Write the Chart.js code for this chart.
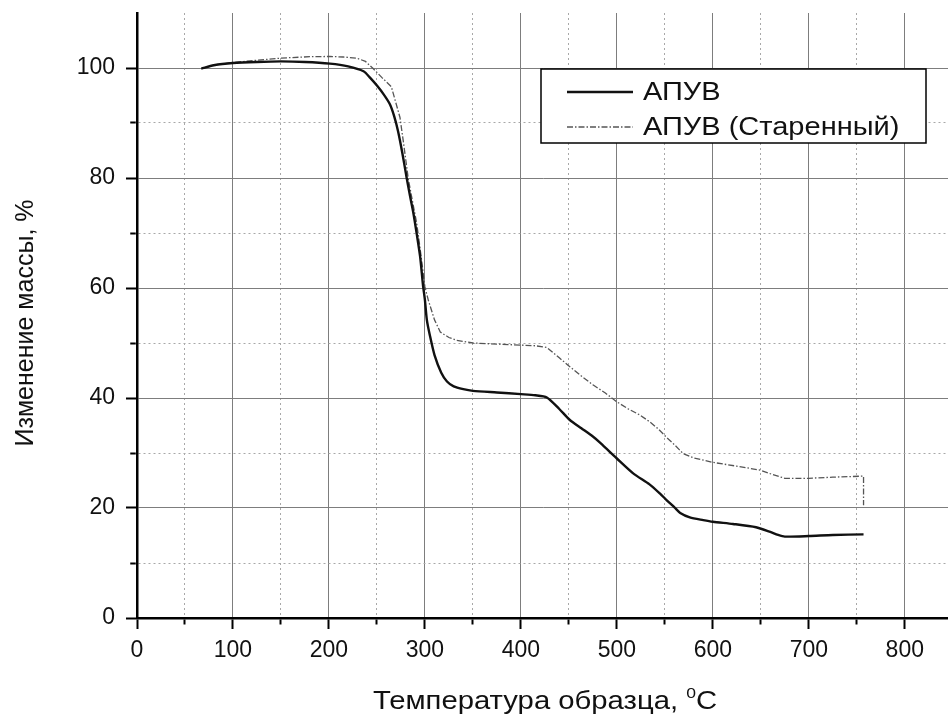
<!DOCTYPE html>
<html>
<head>
<meta charset="utf-8">
<title>ТГА АПУВ</title>
<script src="https://cdn.jsdelivr.net/npm/chart.js@4.4.1/dist/chart.umd.min.js"></script>
<style>
  html, body { margin: 0; padding: 0; background: #fff; overflow: hidden; }
</style>
</head>
<body>
<canvas id="myChart" width="948" height="719"></canvas>
<script>
// температура образца, °C / изменение массы, %
var tempPlain = [67, 80, 100, 125, 150, 175, 201, 220, 236, 243, 250, 257, 263.5, 268, 272, 276.5, 281, 284.5, 288, 291.5, 295, 298, 300, 302, 305, 310, 317, 323, 330, 340, 350, 375, 400, 415, 427, 440, 451, 463, 475, 483, 500, 517, 534, 545, 552, 560, 566, 576, 590, 600, 621, 645, 659, 668, 675, 700, 725, 757];
var massPlain = [99.9, 100.5, 100.9, 101.1, 101.2, 101.1, 100.8, 100.3, 99.4, 98.2, 96.8, 95.2, 93.4, 91.2, 88.5, 84.5, 80.0, 76.7, 73.6, 69.8, 65.7, 60.5, 57.8, 54.2, 51.5, 47.8, 44.6, 43.0, 42.1, 41.6, 41.3, 41.0, 40.7, 40.5, 40.1, 38.0, 36.0, 34.5, 33.0, 31.8, 29.0, 26.3, 24.3, 22.6, 21.4, 20.1, 19.1, 18.3, 17.8, 17.5, 17.1, 16.5, 15.7, 15.1, 14.8, 14.9, 15.1, 15.2];

var tempAged = [67, 80, 100, 125, 150, 180, 201, 215, 229, 238, 246, 255, 265, 270, 274, 278, 282.6, 287, 291.4, 296, 300, 303.5, 310, 316, 325, 333, 350, 375, 401, 415, 427, 440, 451, 463, 475, 488, 500, 512, 524, 534, 543, 552, 560, 569, 580, 600, 625, 649, 662, 675, 700, 725, 757, 757];
var massAged = [99.9, 100.5, 101.0, 101.4, 101.8, 102.05, 102.1, 102.0, 101.8, 101.2, 99.9, 98.3, 96.6, 93.5, 91.0, 86.0, 79.9, 75.8, 71.8, 65.8, 60.2, 57.8, 54.2, 52.0, 51.0, 50.5, 50.0, 49.8, 49.6, 49.5, 49.2, 47.3, 45.7, 44.0, 42.4, 40.9, 39.3, 38.0, 36.9, 35.7, 34.4, 32.8, 31.5, 29.9, 29.1, 28.3, 27.6, 26.9, 26.1, 25.4, 25.4, 25.6, 25.8, 20.5];

var seriesNames = ["АПУВ", "АПУВ (Старенный)"];
var xTickLabels = [0, 100, 200, 300, 400, 500, 600, 700, 800];
var yTickLabels = [0, 20, 40, 60, 80, 100];
var xTitle = "Температура образца, ";
var xTitleUnit = ["0", "C"];
var yTitle = "Изменение массы, %";

var FONT = '"Liberation Sans", Arial, sans-serif';

function toPoints(xs, ys) {
  return xs.map(function (x, i) { return {x: x, y: ys[i]}; });
}

function isMajor(list, ctx) {
  return ctx.tick && list.indexOf(ctx.tick.value) !== -1;
}

// legend box and axis titles are drawn by hand
var decorPlugin = {
  id: 'decor',
  afterDraw: function (chart) {
    var c = chart.ctx;
    c.save();

    // legend
    var lx = 541, ly = 69, lw = 385, lh = 74;
    c.fillStyle = '#fff';
    c.fillRect(lx, ly, lw, lh);
    c.strokeStyle = '#000';
    c.lineWidth = 1.5;
    c.strokeRect(lx, ly, lw, lh);
    chart.data.datasets.forEach(function (ds, i) {
      var y = ly + 23 + i * 35;
      c.beginPath();
      c.setLineDash(ds.borderDash || []);
      c.strokeStyle = ds.borderColor;
      c.lineWidth = ds.borderWidth;
      c.moveTo(lx + 26, y);
      c.lineTo(lx + 92, y);
      c.stroke();
      c.setLineDash([]);
      c.save();
      c.translate(lx + 102, y);
      c.scale(1.16, 1);
      c.fillStyle = '#111';
      c.font = '25px ' + FONT;
      c.textBaseline = 'middle';
      c.textAlign = 'left';
      c.fillText(ds.label, 0, 1);
      c.restore();
    });

    // x title with superscript degree
    c.save();
    c.translate(373, 709);
    c.scale(1.17, 1);
    c.fillStyle = '#111';
    c.textBaseline = 'alphabetic';
    c.textAlign = 'left';
    c.font = '25px ' + FONT;
    c.fillText(xTitle, 0, 0);
    var w = c.measureText(xTitle).width;
    c.font = '15px ' + FONT;
    c.fillText(xTitleUnit[0], w, -11);
    w += c.measureText(xTitleUnit[0]).width;
    c.font = '25px ' + FONT;
    c.fillText(xTitleUnit[1], w, 0);
    c.restore();

    // y title
    c.save();
    c.translate(33, 323);
    c.rotate(-Math.PI / 2);
    c.fillStyle = '#111';
    c.font = '25px ' + FONT;
    c.textAlign = 'center';
    c.textBaseline = 'alphabetic';
    c.fillText(yTitle, 0, 0);
    c.restore();

    c.restore();
  }
};

var myChart = new Chart("myChart", {
  type: "line",
  data: {
    datasets: [{
      label: seriesNames[0],
      data: toPoints(tempPlain, massPlain),
      borderColor: "#111",
      borderWidth: 2.4,
      pointRadius: 0,
      fill: false,
      tension: 0.25
    }, {
      label: seriesNames[1],
      data: toPoints(tempAged, massAged),
      borderColor: "#555",
      borderWidth: 1.3,
      borderDash: [6, 2, 1.5, 2],
      pointRadius: 0,
      fill: false,
      tension: 0
    }]
  },
  options: {
    responsive: false,
    animation: false,
    devicePixelRatio: 1,
    layout: {padding: {top: 13, right: 0, bottom: 0, left: 0}},
    plugins: {
      legend: {display: false},
      tooltip: {enabled: false}
    },
    scales: {
      x: {
        type: "linear",
        min: 0,
        max: 845,
        afterFit: function (scale) {
          scale.height = 101;
          scale.paddingLeft = 0;
          scale.paddingRight = 0;
        },
        ticks: {
          stepSize: 50,
          includeBounds: false,
          autoSkip: false,
          maxRotation: 0,
          padding: 8,
          color: "#111",
          font: {family: FONT, size: 23},
          callback: function (v) { return xTickLabels.indexOf(v) !== -1 ? String(v) : ''; }
        },
        grid: {
          color: function (ctx) { return isMajor(xTickLabels, ctx) ? '#7d7d7d' : '#a8a8a8'; },
          lineWidth: 1,
          tickLength: 11,
          tickColor: '#000',
          tickWidth: 2,
          tickBorderDash: function (ctx) { return isMajor(xTickLabels, ctx) ? [] : [5, 40]; }
        },
        border: {
          display: true,
          color: '#000',
          width: 2.5,
          dash: function (ctx) { return (!ctx.tick || isMajor(xTickLabels, ctx)) ? [] : [2, 3]; }
        }
      },
      y: {
        min: 0,
        max: 110,
        afterFit: function (scale) {
          scale.width = 137;
          scale.paddingTop = 0;
          scale.paddingBottom = 0;
        },
        ticks: {
          stepSize: 10,
          autoSkip: false,
          padding: 11,
          color: "#111",
          font: {family: FONT, size: 23},
          callback: function (v) {
            if (v === 110) return null;
            return yTickLabels.indexOf(v) !== -1 ? String(v) : '';
          }
        },
        grid: {
          color: function (ctx) {
            if (ctx.tick && ctx.tick.value === 110) return 'rgba(0,0,0,0)';
            return isMajor(yTickLabels, ctx) ? '#7d7d7d' : '#a8a8a8';
          },
          lineWidth: 1,
          tickLength: 11,
          tickColor: '#000',
          tickWidth: 2,
          tickBorderDash: function (ctx) { return isMajor(yTickLabels, ctx) ? [] : [5.5, 30]; },
          tickBorderDashOffset: function (ctx) { return isMajor(yTickLabels, ctx) ? 0 : 31.25; }
        },
        border: {
          display: true,
          color: '#000',
          width: 2.5,
          dash: function (ctx) { return (!ctx.tick || isMajor(yTickLabels, ctx)) ? [] : [2, 3]; }
        }
      }
    }
  },
  plugins: [decorPlugin]
});
</script>
</body>
</html>
